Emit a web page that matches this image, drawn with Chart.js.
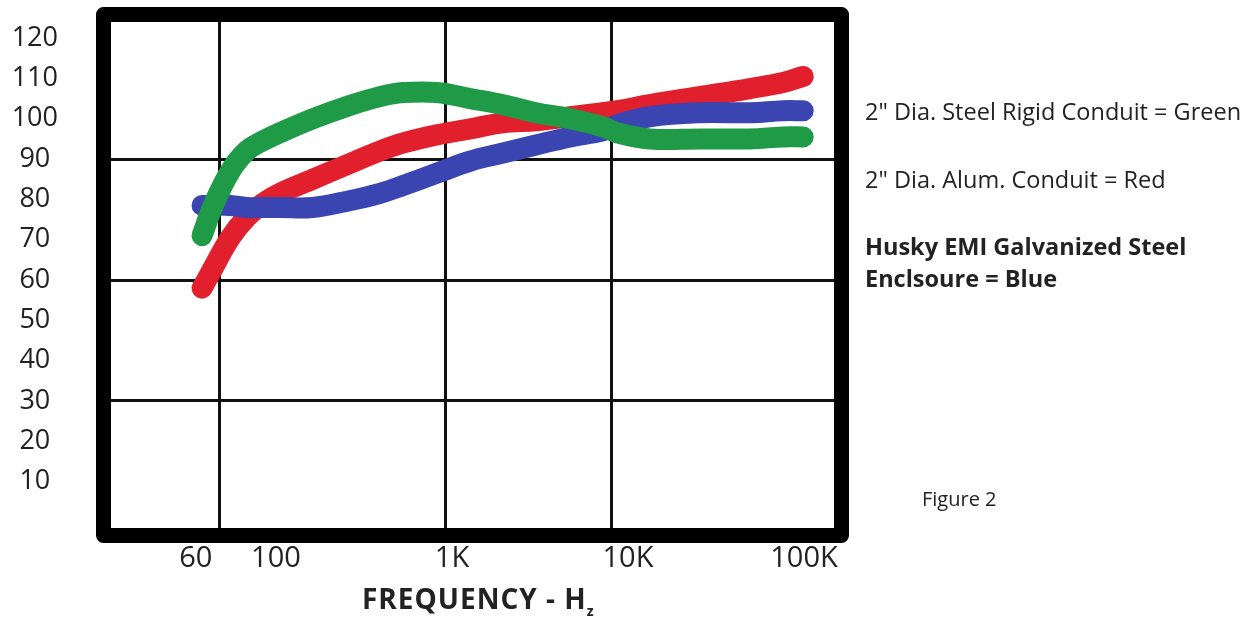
<!DOCTYPE html>
<html lang="en">
<head>
  <meta charset="UTF-8">
  <title>Figure 2 - Shielding vs Frequency</title>
  <script src="https://cdn.jsdelivr.net/npm/chart.js@4.4.1/dist/chart.umd.min.js"></script>
  <style>
    body {
      margin: 0;
      background: #fff;
      font-family: 'Open Sans', sans-serif;
      color: #222;
    }
    #wrap {
      position: absolute;
      left: 0;
      top: 0;
      width: 1258px;
      height: 627px;
    }
    .note {
      position: absolute;
      white-space: nowrap;
      line-height: 1;
    }
    .legend { left: 865px; font-size: 23.5px; }
    .legend b { font-weight: 700; }
    #xtitle {
      left: 362px;
      top: 584px;
      font-size: 28px;
      font-weight: 700;
      letter-spacing: 1px;
    }
    #xtitle sub { font-size: 14px; vertical-align: -7px; letter-spacing: 0; }
    #fig { left: 922px; top: 489px; font-size: 20px; }
  </style>
</head>
<body>

<div id="wrap">
  <canvas id="freqChart"></canvas>
</div>

<div class="note legend" style="top:100px">2&quot; Dia. Steel Rigid Conduit = Green</div>
<div class="note legend" style="top:168px">2&quot; Dia. Alum. Conduit = Red</div>
<div class="note legend" style="top:235px"><b>Husky EMI Galvanized Steel</b></div>
<div class="note legend" style="top:267px"><b>Enclsoure = Blue</b></div>
<div class="note" id="xtitle">FREQUENCY - H<sub>z</sub></div>
<div class="note" id="fig">Figure 2</div>

<script>
  // frequencies (Hz), shared by the three curves
  const freqHz = [38, 44, 55, 68, 84, 105, 162, 250, 390, 530, 820, 1270, 1950, 3000,
                  4700, 7200, 8700, 13300, 25600, 49300, 76000, 99000];

  const steelRigid = [71, 78.5, 87, 92, 94.5, 96.5, 100, 103, 105.5, 106.5, 106.5, 105,
                      103.5, 101.5, 100, 98, 96.5, 95, 95, 95, 95.5, 95.5];
  const aluminum = [58, 63, 70.5, 75.5, 79, 81.5, 85, 88.5, 92, 94, 96, 97.5,
                    99, 99.5, 100.5, 101.5, 102, 103.5, 105.5, 107.5, 109, 110.5];
  const huskyBlue = [78.5, 78.5, 78.5, 78, 78, 78, 78, 79.5, 81.5, 83.5, 86.5, 89.5,
                     91.5, 93.5, 95.5, 97, 98.5, 100.5, 101.5, 101.5, 102, 102];

  const yTicks = [10, 20, 30, 40, 50, 60, 70, 80, 90, 100, 110, 120];
  const yGrid = [30, 60, 90];
  // the figure prints "60" left of its grid line, so the label sits lower on the scale
  const xTickAt = [35, 100, 1000, 10000, 100000];
  const xTickLabels = ['60', '100', '1K', '10K', '100K'];
  const xGrid = [48, 920, 8100];

  const X_MIN = 11.55, X_MAX = 148100;

  function pts(vals) {
    return freqHz.map((f, i) => ({ x: f, y: vals[i] }));
  }

  function curve(label, vals, color) {
    return {
      label: label,
      data: pts(vals),
      borderColor: color,
      backgroundColor: color,
      borderWidth: 21,
      borderCapStyle: 'round',
      borderJoinStyle: 'round',
      pointRadius: 0,
      tension: 0.4,
      fill: false
    };
  }

  // thick black box around the plot
  const framePlugin = {
    id: 'frame',
    afterDraw(chart) {
      const a = chart.chartArea;
      const ctx = chart.ctx;
      ctx.save();
      ctx.lineWidth = 15;
      ctx.strokeStyle = '#000';
      ctx.lineJoin = 'round';
      ctx.strokeRect(a.left - 7.5, a.top - 7.5, a.right - a.left + 15, a.bottom - a.top + 15);
      ctx.restore();
    }
  };

  const ctx = document.getElementById('freqChart').getContext('2d');
  new Chart(ctx, {
    type: 'line',
    data: {
      datasets: [
        curve('2" Dia. Steel Rigid Conduit', steelRigid, '#1f9b48'),
        curve('Husky EMI Galvanized Steel Enclosure', huskyBlue, '#3a45b2'),
        curve('2" Dia. Alum. Conduit', aluminum, '#e11f2d')
      ]
    },
    options: {
      responsive: true,
      maintainAspectRatio: false,
      animation: false,
      layout: { padding: { left: 0, top: 22, right: 424, bottom: 0 } },
      plugins: {
        legend: { display: false },
        tooltip: { enabled: false }
      },
      scales: {
        x: {
          type: 'logarithmic',
          position: 'bottom',
          min: X_MIN,
          max: X_MAX,
          afterBuildTicks: (scale) => { scale.ticks = xTickAt.map(v => ({ value: v })); },
          afterFit: (scale) => { scale.height = 99; },
          grid: { display: false, drawTicks: false },
          border: { display: false },
          ticks: {
            autoSkip: false,
            maxRotation: 0,
            padding: 13,
            color: '#222',
            font: { family: 'Open Sans', size: 29 },
            callback: (v, i) => xTickLabels[i]
          }
        },
        xg: {
          type: 'logarithmic',
          position: 'top',
          min: X_MIN,
          max: X_MAX,
          z: 1,
          afterBuildTicks: (scale) => { scale.ticks = xGrid.map(v => ({ value: v })); },
          afterFit: (scale) => { scale.height = 0; },
          grid: { color: '#111', lineWidth: 3, drawTicks: false },
          border: { display: false },
          ticks: { display: false, padding: 0 }
        },
        y: {
          min: -1.5,
          max: 124,
          z: 1,
          afterBuildTicks: (scale) => { scale.ticks = yTicks.map(v => ({ value: v })); },
          afterFit: (scale) => { scale.width = 111; },
          grid: {
            drawTicks: true,
            tickLength: 53,
            tickColor: 'rgba(0,0,0,0)',
            lineWidth: 3,
            color: (c) => (c.tick && yGrid.includes(c.tick.value)) ? '#111' : 'rgba(0,0,0,0)'
          },
          border: { display: false },
          ticks: {
            crossAlign: 'center',
            padding: 0,
            color: '#222',
            font: { family: 'Open Sans', size: 27 }
          }
        }
      }
    },
    plugins: [framePlugin]
  });
</script>
</body>
</html>
